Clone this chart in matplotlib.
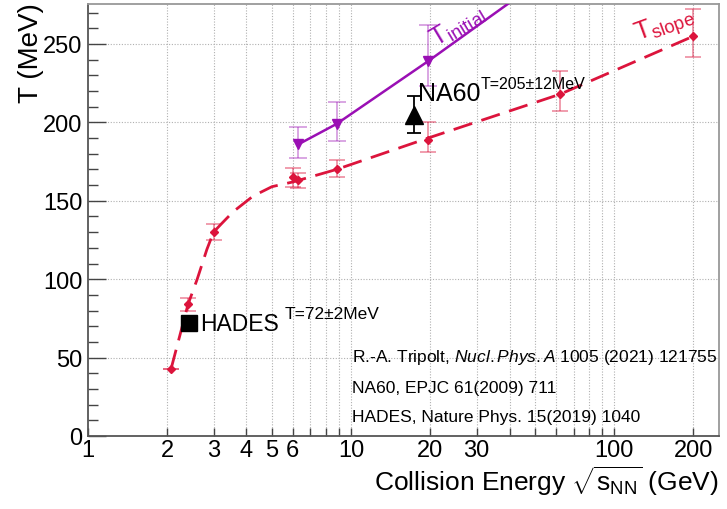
import numpy as np
import matplotlib
matplotlib.use("Agg")
import matplotlib.pyplot as plt
from matplotlib.ticker import FixedLocator, NullFormatter

plt.rcParams['font.family'] = ['Liberation Sans', 'DejaVu Sans']
plt.rcParams['mathtext.fontset'] = 'custom'
plt.rcParams['mathtext.rm'] = 'Liberation Sans'
plt.rcParams['mathtext.it'] = 'Liberation Sans:italic'
plt.rcParams['mathtext.bf'] = 'Liberation Sans:bold'

# T_slope points (collision energy in GeV, temperature in MeV)
slope_x = [2.07, 2.4, 3.0, 6.0, 6.3, 8.8, 19.6, 62.3, 200.0]
slope_y = [43, 84, 130, 165, 163, 170, 189, 218, 255]
slope_err_lo = [0, 4, 5, 6, 5, 5, 8, 11, 13]
slope_err_hi = [0, 4, 5, 6, 5, 6, 11, 15, 17]

# smooth T_slope curve
curve_x = [2.07, 2.4, 2.6, 2.83, 3.0, 3.2, 3.56, 4.24, 5.0, 6.0, 6.3, 8.8, 19.6, 62.3, 200.0]
curve_y = [43, 84, 100, 119, 130, 135, 143, 153, 159, 162, 163, 170, 190, 218, 255]

# T_initial points
init_x = [6.3, 8.8, 19.6]
init_y = [186, 199, 239]
init_err_lo = [9, 11, 16]
init_err_hi = [11, 14, 23]
init_line_x = [6.3, 8.8, 19.6, 50.0]
init_line_y = [186, 199, 239, 288]

# single measurements
na60_x, na60_T, na60_err = 17.3, 205, 12
hades_x, hades_T, hades_err = 2.42, 72, 2

x_major = [1, 2, 3, 4, 5, 6, 10, 20, 30, 100, 200]
x_minor = [7, 8, 9, 40, 50, 60, 70, 80, 90]
x_grid = [2, 3, 4, 5, 6, 7, 8, 9, 10, 20, 30, 40, 50, 60, 70, 80, 90, 100, 200]
y_major = [0, 50, 100, 150, 200, 250]

RED = '#dc143c'
PURPLE = '#9a0fb4'

fig = plt.figure(figsize=(7.27, 5.10), dpi=100)
ax = fig.add_axes([88/727, 1-437/510, (719-88)/727, (437-5)/510])
ax.set_xscale('log')
ax.set_xlim(1, 250)
ax.set_ylim(0, 275.5)

# grid
for gx in x_grid:
    ax.axvline(gx, color='#b0b0b0', lw=0.8, ls=(0, (1, 1.5)), zorder=0)
for gy in y_major[1:]:
    ax.axhline(gy, color='#b0b0b0', lw=0.8, ls=(0, (1, 1.5)), zorder=0)

# T_slope
ax.plot(curve_x, curve_y, color=RED, lw=2.0, dashes=(7, 3.5), zorder=3)
ax.errorbar(slope_x, slope_y, yerr=[slope_err_lo, slope_err_hi], fmt='none',
            ecolor=RED, alpha=0.45, elinewidth=1.3, capsize=6, capthick=1.3, zorder=2)
ax.plot(slope_x, slope_y, ls='none', marker='D', ms=4.5, color=RED, zorder=4)

# T_initial
ax.plot(init_line_x, init_line_y, color=PURPLE, lw=1.8, zorder=3)
ax.errorbar(init_x, init_y, yerr=[init_err_lo, init_err_hi], fmt='none',
            ecolor=PURPLE, alpha=0.4, elinewidth=1.3, capsize=6.5, capthick=1.3, zorder=2)
ax.plot(init_x, init_y, ls='none', marker='v', ms=6.5, color=PURPLE, zorder=4)

# NA60
ax.errorbar([na60_x], [na60_T], yerr=[[na60_err], [na60_err]], fmt='none',
            ecolor='black', elinewidth=1.3, capsize=5, capthick=1.3, zorder=5)
ax.plot([na60_x], [na60_T], ls='none', marker='^', ms=13, color='black', zorder=6)

# HADES
ax.errorbar([hades_x], [hades_T], yerr=[[hades_err], [hades_err]], fmt='none',
            ecolor='black', elinewidth=1.3, capsize=3, zorder=5)
ax.plot([hades_x], [hades_T], ls='none', marker='s', ms=12, color='black', zorder=6)

# point labels
t_na = ax.text(18.0, 214, 'NA60', fontsize=18, ha='left', va='baseline', zorder=7)
ax.annotate('T=205\u00b112MeV', xy=(1.0, 0.62), xycoords=t_na, fontsize=11.5,
            ha='left', va='bottom', zorder=7)
t_ha = ax.text(2.67, 67.5, 'HADES', fontsize=16.5, ha='left', va='baseline', zorder=7)
ax.annotate('T=72\u00b12MeV', xy=(1.0, 0.62), xycoords=t_ha, xytext=(4, 0),
            textcoords='offset points', fontsize=12.5, ha='left', va='bottom', zorder=7)

ax.text(25.5, 262, r'T$_{\rm initial}$', fontsize=19, color=PURPLE, rotation=31,
        ha='center', va='center', rotation_mode='anchor')
ax.text(155, 262, r'T$_{\rm slope}$', fontsize=19, color=RED, rotation=20,
        ha='center', va='center', rotation_mode='anchor')

# references
fig.text(352/727, 1-358/510, r'R.-A. Tripolt, $\mathit{Nucl.Phys.A}$ 1005 (2021) 121755',
         fontsize=12.5, ha='left', va='center')
fig.text(352/727, 1-389/510, 'NA60, EPJC 61(2009) 711', fontsize=12.5, ha='left', va='center')
fig.text(352/727, 1-418/510, 'HADES, Nature Phys. 15(2019) 1040', fontsize=12.5,
         ha='left', va='center')

# axes styling
ax.xaxis.set_major_locator(FixedLocator(x_major))
ax.xaxis.set_minor_locator(FixedLocator(x_minor))
ax.set_xticklabels([str(v) for v in x_major])
ax.xaxis.set_minor_formatter(NullFormatter())
ax.set_yticks(y_major)
ax.set_yticklabels([str(v) for v in y_major])
ax.yaxis.set_minor_locator(FixedLocator(np.arange(0, 280, 10)))
ax.tick_params(axis='both', which='both', direction='in', colors='#444444',
               labelcolor='black', labelsize=17, width=1.0)
ax.tick_params(axis='y', which='major', length=13, pad=4)
ax.tick_params(axis='y', which='minor', length=7)
ax.tick_params(axis='x', which='both', length=6, pad=2)
ax.tick_params(top=False, right=False)
for side in ['left', 'bottom']:
    ax.spines[side].set_color('#555555')
    ax.spines[side].set_linewidth(1.3)
for side in ['top', 'right']:
    ax.spines[side].set_color('#999999')
    ax.spines[side].set_linewidth(1.3)

fig.text(31/727, 1-3/510, 'T (MeV)', fontsize=20, rotation=90, ha='center', va='top')
fig.text(719/727, 1-491/510,
         r'Collision Energy $\sqrt{\mathrm{s}_{\mathrm{NN}}}$ (GeV)', fontsize=19,
         ha='right', va='baseline')

fig.savefig('out.png', dpi=100)
